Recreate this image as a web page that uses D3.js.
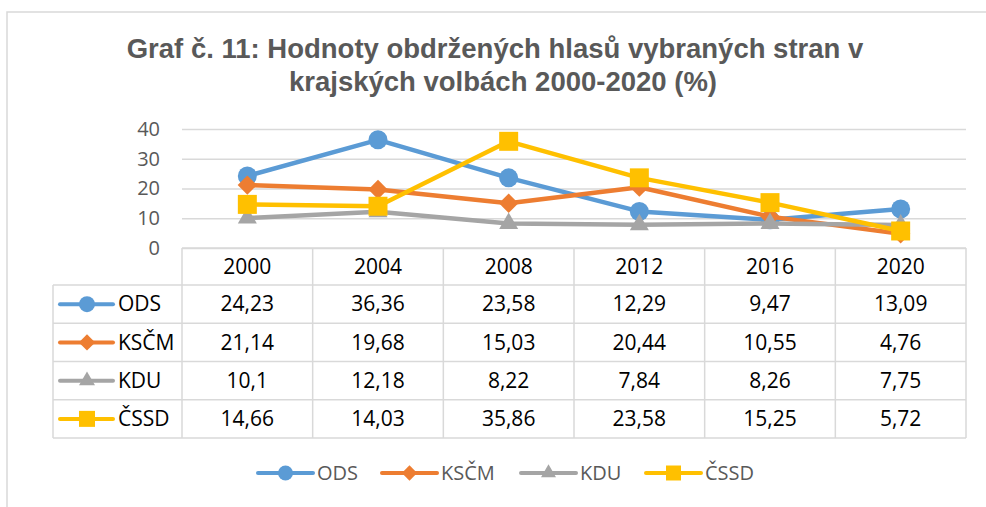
<!DOCTYPE html>
<html>
<head>
<meta charset="utf-8">
<script src="https://cdn.jsdelivr.net/npm/d3@7"></script>
<style>
  body { margin: 0; background: #fff; }
  svg { display: block; }
</style>
</head>
<body>
<svg id="chart"></svg>
<script>
const W = 986, H = 507;

// data
const years = ["2000", "2004", "2008", "2012", "2016", "2020"];
const ods = [24.23, 36.36, 23.58, 12.29, 9.47, 13.09];
const kscm = [21.14, 19.68, 15.03, 20.44, 10.55, 4.76];
const kdu = [10.1, 12.18, 8.22, 7.84, 8.26, 7.75];
const cssd = [14.66, 14.03, 35.86, 23.58, 15.25, 5.72];
const seriesNames = ["ODS", "KSČM", "KDU", "ČSSD"];
const yTicks = [0, 10, 20, 30, 40];
const titleLines = ["Graf č. 11: Hodnoty obdržených hlasů vybraných stran v", "krajských volbách 2000-2020 (%)"];

const series = [
  { name: seriesNames[0], values: ods, color: "#5B9BD5", marker: "circle" },
  { name: seriesNames[1], values: kscm, color: "#ED7D31", marker: "diamond" },
  { name: seriesNames[2], values: kdu, color: "#A5A5A5", marker: "triangle" },
  { name: seriesNames[3], values: cssd, color: "#FFC000", marker: "square" }
];

const svg = d3.select("#chart").attr("width", W).attr("height", H);
const grid = "#D9D9D9";
const font = "'Open Sans', sans-serif";

// cadre
svg.append("path")
  .attr("d", `M7,${H + 2} V12 H${W + 2}`)
  .attr("fill", "none")
  .attr("stroke", grid)
  .attr("stroke-width", 1.5);

// titre
svg.selectAll(".title")
  .data(titleLines)
  .enter()
  .append("text")
  .attr("class", "title")
  .attr("x", (d, i) => i === 0 ? 495 : 503)
  .attr("y", (d, i) => 58 + i * 33)
  .attr("text-anchor", "middle")
  .attr("font-family", "'Liberation Sans', Arial, sans-serif")
  .attr("font-weight", "bold")
  .attr("font-size", 27.5)
  .attr("fill", "#595959")
  .text(d => d);

// échelles
const x = d3.scaleBand().domain(years).range([182, 966]);
const y = d3.scaleLinear().domain([0, 40]).range([248, 129]);
const cx = d => x(d) + x.bandwidth() / 2;

// grille
svg.append("g")
  .attr("transform", "translate(182,0)")
  .call(d3.axisLeft(y).tickValues(yTicks).tickSize(-784).tickFormat(""))
  .call(g => g.select(".domain").remove())
  .call(g => g.selectAll("line").attr("stroke", grid).attr("stroke-width", 1.5));

// étiquettes de l'axe Y
svg.append("g")
  .attr("transform", "translate(160,0)")
  .call(d3.axisLeft(y).tickValues(yTicks).tickSize(0).tickPadding(0))
  .call(g => g.select(".domain").remove())
  .call(g => g.selectAll("text")
    .attr("font-family", font)
    .attr("font-size", 20)
    .attr("fill", "#595959"));

// marqueurs
function markerPath(type, s) {
  if (type === "circle") return d3.symbol(d3.symbolCircle, Math.PI * s * s / 4)();
  if (type === "square") return d3.symbol(d3.symbolSquare, s * s)();
  if (type === "diamond") return d3.symbol(d3.symbolSquare, (s * 0.72) * (s * 0.72))();
  return d3.symbol(d3.symbolTriangle, Math.sqrt(3) / 4 * s * s)();
}
function markerRotate(type) {
  return type === "diamond" ? " rotate(45)" : "";
}

// tableau de données
const tableTop = 248, headerBottom = 285, tableBottom = 438, labelLeft = 53;
const rowY = d3.scaleBand().domain(seriesNames).range([headerBottom, tableBottom]);
const table = svg.append("g");

// lignes horizontales
table.append("line")
  .attr("x1", x.range()[0]).attr("x2", x.range()[1])
  .attr("y1", tableTop).attr("y2", tableTop);
table.selectAll(".hrow")
  .data(seriesNames)
  .enter()
  .append("line")
  .attr("x1", labelLeft).attr("x2", x.range()[1])
  .attr("y1", d => rowY(d)).attr("y2", d => rowY(d));
table.append("line")
  .attr("x1", labelLeft).attr("x2", x.range()[1])
  .attr("y1", tableBottom).attr("y2", tableBottom);

// lignes verticales
table.selectAll(".vcol")
  .data(years.concat([null]))
  .enter()
  .append("line")
  .attr("x1", d => d ? x(d) : x.range()[1])
  .attr("x2", d => d ? x(d) : x.range()[1])
  .attr("y1", tableTop).attr("y2", tableBottom);
table.append("line")
  .attr("x1", labelLeft).attr("x2", labelLeft)
  .attr("y1", headerBottom).attr("y2", tableBottom);
table.selectAll("line").attr("stroke", grid).attr("stroke-width", 1.5);

// en-têtes des années
table.selectAll(".year")
  .data(years)
  .enter()
  .append("text")
  .attr("x", d => cx(d))
  .attr("y", (tableTop + headerBottom) / 2)
  .attr("dy", "0.35em")
  .attr("text-anchor", "middle")
  .attr("font-family", font)
  .attr("font-size", 21)
  .attr("fill", "#000")
  .text(d => d);

// valeurs + légende des lignes
series.forEach(s => {
  const ry = rowY(s.name) + rowY.bandwidth() / 2;
  table.append("line")
    .attr("x1", 60).attr("x2", 113)
    .attr("y1", ry).attr("y2", ry)
    .attr("stroke", s.color).attr("stroke-width", 4)
    .attr("stroke-linecap", "round");
  table.append("path")
    .attr("d", markerPath(s.marker, 16))
    .attr("transform", `translate(87,${ry})${markerRotate(s.marker)}`)
    .attr("fill", s.color);
  table.append("text")
    .attr("x", 118).attr("y", ry).attr("dy", "0.35em")
    .attr("font-family", font).attr("font-size", 21).attr("fill", "#000")
    .text(s.name);
  table.selectAll(null)
    .data(s.values)
    .enter()
    .append("text")
    .attr("x", (d, i) => cx(years[i]))
    .attr("y", ry).attr("dy", "0.35em")
    .attr("text-anchor", "middle")
    .attr("font-family", font).attr("font-size", 21).attr("fill", "#000")
    .text(d => String(d).replace(".", ","));
});

// séries
const line = d3.line()
  .x((d, i) => cx(years[i]))
  .y(d => y(d));

series.forEach(s => {
  const g = svg.append("g");
  g.append("path")
    .datum(s.values)
    .attr("d", line)
    .attr("fill", "none")
    .attr("stroke", s.color)
    .attr("stroke-width", 4.5)
    .attr("stroke-linejoin", "round")
    .attr("stroke-linecap", "round");
  g.selectAll(".pt")
    .data(s.values)
    .enter()
    .append("path")
    .attr("d", markerPath(s.marker, 19))
    .attr("transform", (d, i) => `translate(${cx(years[i])},${y(d)})${markerRotate(s.marker)}`)
    .attr("fill", s.color);
});

// légende
const legendX = [258, 382, 521, 646];
const legend = svg.append("g");
series.forEach((s, i) => {
  const lx = legendX[i], ly = 473;
  legend.append("line")
    .attr("x1", lx).attr("x2", lx + 55)
    .attr("y1", ly).attr("y2", ly)
    .attr("stroke", s.color).attr("stroke-width", 4)
    .attr("stroke-linecap", "round");
  legend.append("path")
    .attr("d", markerPath(s.marker, 15))
    .attr("transform", `translate(${lx + 27.5},${ly})${markerRotate(s.marker)}`)
    .attr("fill", s.color);
  legend.append("text")
    .attr("x", lx + 59).attr("y", ly).attr("dy", "0.35em")
    .attr("font-family", font).attr("font-size", 20).attr("fill", "#595959")
    .text(s.name);
});
</script>
</body>
</html>
